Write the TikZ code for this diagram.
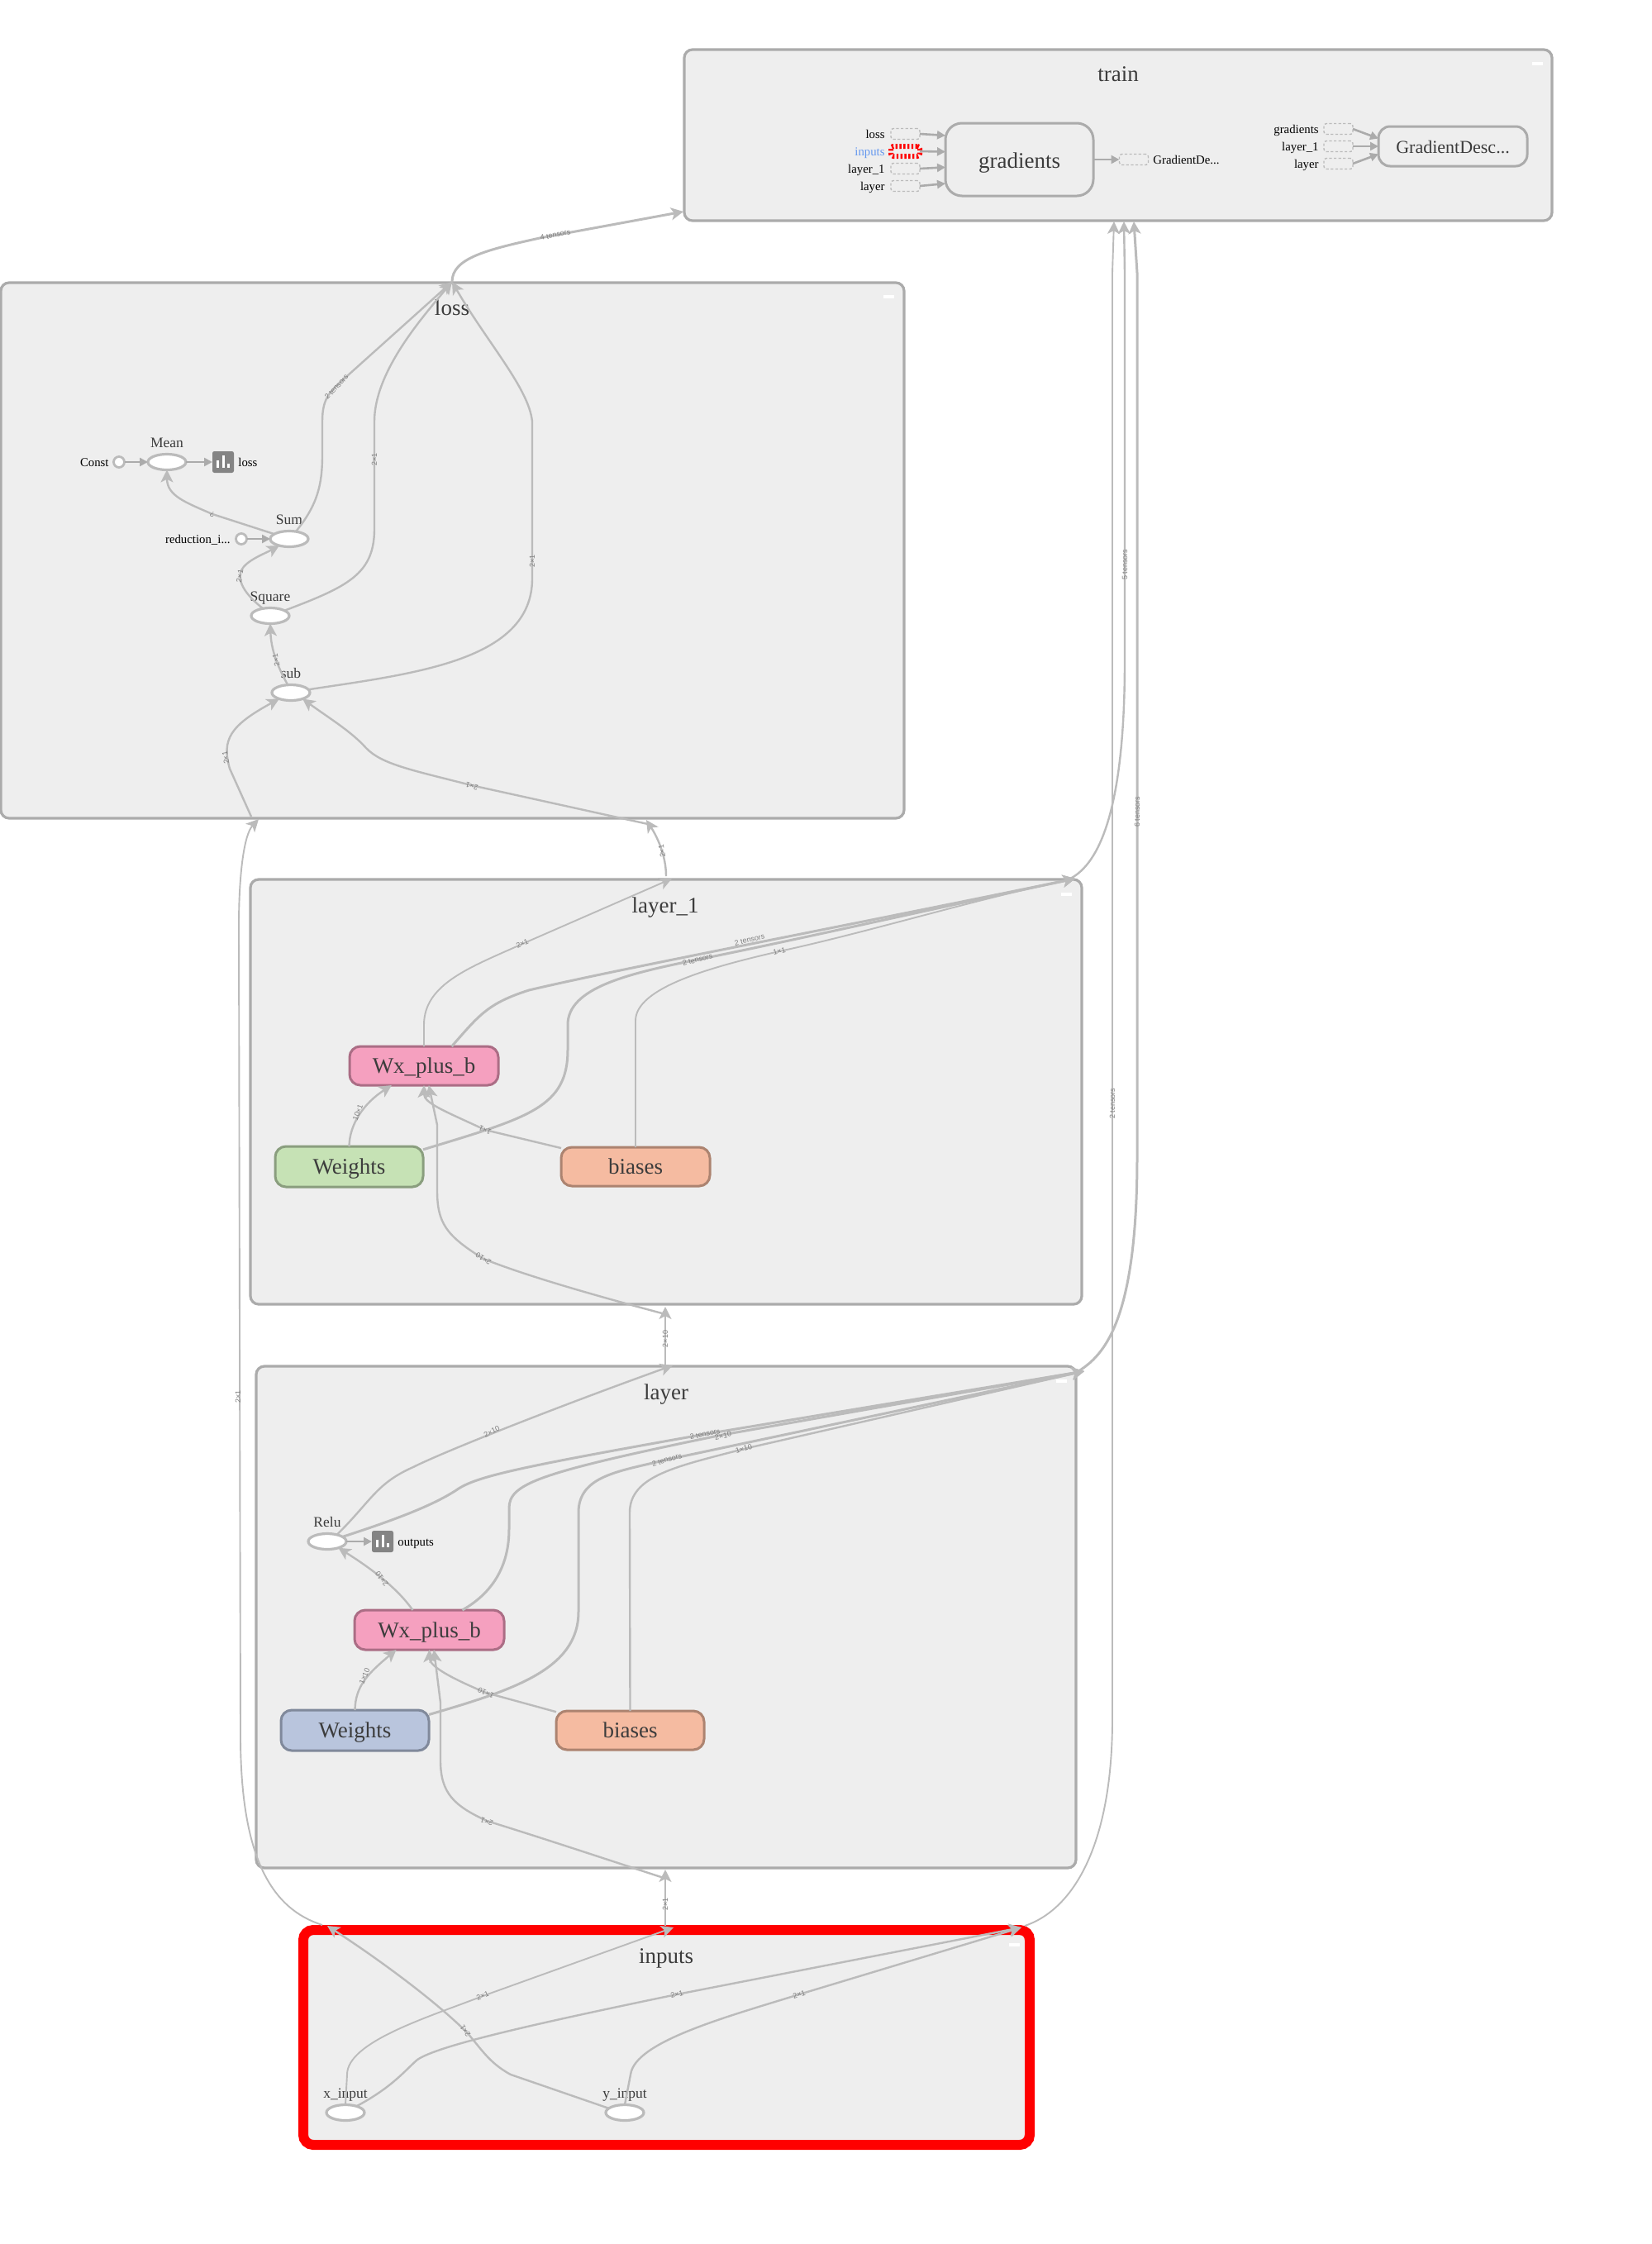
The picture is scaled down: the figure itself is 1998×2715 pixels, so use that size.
\documentclass[tikz,border=0pt]{standalone}
\usepackage{fontspec}
\setmainfont{Liberation Serif}
\newfontfamily\lsans{Liberation Sans}
\usetikzlibrary{arrows.meta,shapes.geometric}
\definecolor{grpfill}{HTML}{EEEEEE}
\definecolor{grpline}{HTML}{ABABAB}
\definecolor{edgec}{HTML}{BBBBBB}
\definecolor{annc}{HTML}{ABABAB}
\definecolor{inkc}{HTML}{3C3C3C}
\definecolor{lblc}{HTML}{7F7F7F}
\definecolor{iconc}{HTML}{848484}
\definecolor{wxf}{HTML}{F5A0BF}\definecolor{wxd}{HTML}{AB6D85}
\definecolor{grf}{HTML}{C6E2B5}\definecolor{grd}{HTML}{8A9E7E}
\definecolor{orf}{HTML}{F5BBA1}\definecolor{ord}{HTML}{AC8370}
\definecolor{blf}{HTML}{B9C5DD}\definecolor{bld}{HTML}{80899B}
\definecolor{hotred}{HTML}{FF0000}
\definecolor{bluetxt}{HTML}{6699EE}
\tikzset{
  grp/.style={draw=grpline,fill=grpfill,line width=1.6pt,rounded corners=5pt,outer sep=0pt,inner sep=0pt},
  hot/.style={draw=hotred,fill=grpfill,line width=6pt,rounded corners=6pt,outer sep=0pt,inner sep=0pt},
  gtitle/.style={font=\fontsize{13.5}{15}\selectfont,text=inkc,inner sep=0pt,anchor=base},
  metabox/.style={draw,line width=1.5pt,rounded corners=6.5pt,outer sep=0pt,inner sep=0pt,
     font=\fontsize{13.5}{15}\selectfont,text=inkc,text height=9pt,text depth=0pt},
  wxbox/.style={metabox,fill=wxf,draw=wxd},
  greenbox/.style={metabox,fill=grf,draw=grd},
  orangebox/.style={metabox,fill=orf,draw=ord},
  bluebox/.style={metabox,fill=blf,draw=bld},
  greybox/.style={metabox,fill=grpfill,draw=grpline},
  opnode/.style={ellipse,draw=edgec,fill=white,line width=1.6pt,minimum width=23pt,minimum height=9.5pt,inner sep=0pt,outer sep=0pt},
  constnode/.style={circle,draw=edgec,fill=white,line width=1.4pt,minimum size=6.5pt,inner sep=0pt,outer sep=0pt},
  oplabel/.style={font=\fontsize{8.75}{10}\selectfont,text=inkc,inner sep=0pt,anchor=base},
  smalllabel/.style={font=\fontsize{7.4}{9}\selectfont,text=black,inner sep=0pt,text height=5pt,text depth=0pt},
  elabel/.style={font=\lsans\fontsize{4.5}{5}\selectfont,text=lblc,inner sep=0pt},
  iconbox/.style={fill=iconc,rounded corners=1.2pt,minimum size=13pt,inner sep=0pt,outer sep=0pt},
  dashbox/.style={draw=edgec,fill=grpfill,line width=.7pt,dash pattern=on 1.6pt off 1.2pt,rounded corners=1.5pt,minimum width=17.5pt,minimum height=6.5pt,inner sep=0pt,outer sep=0pt},
  hotbox/.style={dashbox,draw=hotred,line width=3pt,dash pattern=on 1.2pt off 1.2pt,minimum height=6pt},
  collapse/.style={fill=white,minimum width=6.5pt,minimum height=1.8pt,inner sep=0pt,outer sep=0pt},
  ethin/.style={draw=edgec,line width=.95pt,-{Stealth[length=7.5pt,width=7.5pt,inset=1.9pt]}},
  emid/.style={ethin,line width=1.2pt},
  ethick/.style={ethin,line width=1.5pt},
  annarrow/.style={draw=annc,line width=1.3pt,-{Triangle[length=5pt,width=5pt]}}
}
\newcommand\iconbars[2]{\begin{scope}[shift={(#1,#2)}]
  \fill[white] (-8,7) rectangle (-5,-2);
  \fill[white] (-1.5,7) rectangle (1.5,-8);
  \fill[white] (5,7) rectangle (8,2);
\end{scope}}
\begin{document}
\begin{tikzpicture}[x=0.5pt,y=-0.5pt]
\useasboundingbox (0,0) rectangle (1998,2715);
\fill[white] (0,0) rectangle (1998,2715);

% ---------- groups
\node[grp,minimum width=525pt,minimum height=103.5pt] (train) at (1353,163.5) {};
\node[grp,minimum width=546.5pt,minimum height=324pt] (loss) at (547.5,666) {};
\node[grp,minimum width=503pt,minimum height=257pt] (layerA) at (806,1321) {};
\node[grp,minimum width=496pt,minimum height=303.5pt] (layerB) at (806,1956.5) {};
\node[hot,minimum width=439.5pt,minimum height=130pt] (inputs) at (806.5,2465) {};
\node[gtitle] (trainT) at (1353,98) {train};
\node[gtitle] (lossT) at (547,381) {loss};
\node[gtitle] (layerAT) at (805,1104) {layer\_1};
\node[gtitle] (layerBT) at (806,1693.5) {layer};
\node[gtitle] (inputsT) at (806,2375) {inputs};
\node[collapse] (cTrain) at (1860,77) {};
\node[collapse] (cLoss) at (1075,359) {};
\node[collapse] (cLayerA) at (1290,1082) {};
\node[collapse] (cLayerB) at (1284,1671) {};
\node[collapse] (cInputs) at (1227,2353) {};

% ---------- train
\node[greybox,minimum width=89.5pt,minimum height=44pt,rounded corners=10pt,text height=10pt] (grad) at (1233.5,193) {gradients};
\node[greybox,minimum width=90pt,minimum height=24pt,rounded corners=7pt,font=\fontsize{11}{13}\selectfont,text height=8pt] (gd) at (1758,177) {GradientDesc...};
\node[dashbox] (tLoss) at (1095.5,162) {};
\node[hotbox] (tInputs) at (1095.5,183) {};
\node[dashbox] (tLayerA) at (1095.5,204) {};
\node[dashbox] (tLayerB) at (1095.5,225) {};
\node[dashbox] (tOut) at (1372,193) {};
\node[dashbox] (gGrad) at (1619.5,156) {};
\node[dashbox] (gLayerA) at (1619.5,177) {};
\node[dashbox] (gLayerB) at (1619.5,198) {};
\node[smalllabel,anchor=east] (tLossL) at (1071,162) {loss};
\node[smalllabel,anchor=east,text=bluetxt] (tInputsL) at (1071,183) {inputs};
\node[smalllabel,anchor=east] (tLayerAL) at (1071,204) {layer\_1};
\node[smalllabel,anchor=east] (tLayerBL) at (1071,225) {layer};
\node[smalllabel,anchor=west] (tOutL) at (1395,193) {GradientDe...};
\node[smalllabel,anchor=east] (gGradL) at (1596,156) {gradients};
\node[smalllabel,anchor=east] (gLayerAL) at (1596,177) {layer\_1};
\node[smalllabel,anchor=east] (gLayerBL) at (1596,198) {layer};
\draw[annarrow] (tLoss.east) -- (grad.162);
\draw[annarrow] (tInputs.east) -- (grad.174);
\draw[annarrow] (tLayerA.east) -- (grad.186);
\draw[annarrow] (tLayerB.east) -- (grad.198);
\draw[annarrow] (grad.east) -- (tOut.west);
\draw[annarrow] (gGrad.east) -- (gd.174);
\draw[annarrow] (gLayerA.east) -- (gd.west);
\draw[annarrow] (gLayerB.east) -- (gd.186);

% ---------- loss nodes
\node[opnode] (mean) at (202,559) {};
\node[oplabel] (meanL) at (202,541) {Mean};
\node[constnode] (const) at (144,559) {};
\node[smalllabel,anchor=east] (constL) at (132,559) {Const};
\node[iconbox] (lossIcon) at (270,559) {};
\iconbars{270}{559}
\node[smalllabel,anchor=west] (lossIconL) at (288,559) {loss};
\node[opnode] (sum) at (350,652) {};
\node[oplabel] (sumL) at (350,634) {Sum};
\node[constnode] (redu) at (292,652) {};
\node[smalllabel,anchor=east] (reduL) at (279,652) {reduction\_i...};
\node[opnode] (square) at (327,745) {};
\node[oplabel] (squareL) at (327,727) {Square};
\node[opnode] (sub) at (352,838) {};
\node[oplabel] (subL) at (352,820) {sub};

% ---------- layer_1 nodes
\node[wxbox,minimum width=90pt,minimum height=23.5pt] (wxA) at (513,1289.5) {Wx\_plus\_b};
\node[greenbox,minimum width=89.5pt,minimum height=24.5pt] (wtA) at (422.5,1411.5) {Weights};
\node[orangebox,minimum width=90pt,minimum height=23.5pt] (biA) at (769,1411.5) {biases};

% ---------- layer nodes
\node[opnode] (relu) at (396,1865) {};
\node[oplabel] (reluL) at (396,1847) {Relu};
\node[iconbox] (reluIcon) at (463,1865) {};
\iconbars{463}{1865}
\node[smalllabel,anchor=west] (reluIconL) at (481,1865) {outputs};
\node[wxbox,minimum width=90.5pt,minimum height=24pt] (wxB) at (519.5,1972) {Wx\_plus\_b};
\node[bluebox,minimum width=89.5pt,minimum height=24.5pt] (wtB) at (429.5,2093.5) {Weights};
\node[orangebox,minimum width=89.5pt,minimum height=23.5pt] (biB) at (762.5,2093.5) {biases};

% ---------- inputs nodes
\node[opnode] (xin) at (418,2556) {};
\node[oplabel] (xinL) at (418,2538) {x\_input};
\node[opnode] (yin) at (756,2556) {};
\node[oplabel] (yinL) at (756,2538) {y\_input};

% ---------- junction coordinates
\coordinate (lossTop) at (547,341);
\coordinate (trainL) at (827,256);
\coordinate (lossBotL) at (313,991);
\coordinate (lossBotLout) at (304,988);
\coordinate (lossBotR) at (782,992);
\coordinate (lossBotRout) at (784,997);
\coordinate (lAtop) at (813,1063);
\coordinate (lAtopOut) at (806,1060);
\coordinate (lAcorner) at (1301,1063);
\coordinate (lAcornerOut) at (1295,1063);
\coordinate (lAbot) at (805,1581);
\coordinate (lAbotOut) at (805,1590);
\coordinate (lBtop) at (814,1652);
\coordinate (lBtopOut) at (805,1653);
\coordinate (lBcorner) at (1312,1659);
\coordinate (lBcornerOut) at (1305,1659);
\coordinate (lBbot) at (805,2262);
\coordinate (lBbotOut) at (803,2272);
\coordinate (inTop) at (815,2332);
\coordinate (inTopOut) at (805,2330);
\coordinate (inCorner) at (1236,2332);
\coordinate (inCornerOut) at (1240,2330);
\coordinate (inTL) at (396,2330);
\coordinate (inTLout) at (390,2329);
\coordinate (trainBa) at (1348,268);
\coordinate (trainBb) at (1360,268);
\coordinate (trainBc) at (1372,268);

% ---------- loss edges
\draw[annarrow] (const.east) -- (mean.west);
\draw[annarrow] (mean.east) -- (lossIcon.west);
\draw[annarrow] (redu.east) -- (sum.west);
\draw[emid] (sum.162) -- (257,622) .. controls (225,608) and (202,600) .. (mean.south);
\draw[emid] (square.135) .. controls (300,722) and (286,705) .. (292,690) .. controls (298,678) and (320,670) .. (sum.214);
\draw[emid] (sub.112) .. controls (335,805) and (328,785) .. (square.south);
\draw[emid] (sum.48) .. controls (385,610) and (390,585) .. (390,550) -- (390,510) .. controls (390,480) and (400,473) .. (420,455) -- (lossTop);
\draw[emid] (square.20) .. controls (420,710) and (453,695) .. (453,640) -- (453,510) .. controls (453,450) and (510,385) .. (lossTop);
\draw[emid] (sub.10) .. controls (500,815) and (644,800) .. (644,700) -- (644,510) .. controls (640,470) and (590,415) .. (lossTop);
\draw[ethick] (lossTop) .. controls (547,312) and (590,302) .. (653,288) -- (trainL);
\draw[emid] (lossBotLout) -- (278,930) .. controls (268,895) and (278,878) .. (sub.208);
\draw[emid] (lossBotRout) -- (570,950) .. controls (500,932) and (462,925) .. (443,905) .. controls (425,885) and (400,870) .. (sub.332);
\node[elabel,rotate=158] (lbA) at (257,622) {?};
\node[elabel,rotate=80] (lbB) at (290,697) {2×1};
\node[elabel,rotate=102] (lbC) at (334,799) {2×1};
\node[elabel,rotate=47] (lbD) at (407,468) {2 tensors};
\node[elabel,rotate=90] (lbE) at (453,556) {2×1};
\node[elabel,rotate=90] (lbF) at (644,679) {2×1};
\node[elabel,rotate=11] (lbG) at (672,284) {4 tensors};
\node[elabel,rotate=100] (lbH) at (273,917) {2×1};
\node[elabel,rotate=164] (lbI) at (571,951) {2×1};

% ---------- layer_1 edges
\draw[ethin] (wxA.north) -- (513,1240) .. controls (513,1190) and (570,1170) .. (632,1142) -- (lAtop);
\draw[ethick] (wxA.35) .. controls (580,1228) and (590,1214) .. (640,1198) .. controls (750,1172) and (1000,1125) .. (lAcorner);
\draw[ethick] (wtA.13) .. controls (640,1352) and (687,1340) .. (687,1270) -- (687,1240) .. controls (687,1195) and (760,1178) .. (844,1161) .. controls (950,1140) and (1150,1095) .. (lAcorner);
\draw[ethin] (biA.north) -- (769,1235) .. controls (769,1195) and (860,1170) .. (943,1151) .. controls (1050,1128) and (1180,1088) .. (lAcorner);
\draw[emid] (wtA.north) .. controls (423,1360) and (440,1335) .. (wxA.211);
\draw[emid] (biA.166) -- (587,1367) .. controls (540,1345) and (513,1335) .. (wxA.south);
\draw[emid] (lAbotOut) .. controls (730,1570) and (640,1545) .. (585,1523) .. controls (540,1495) and (529,1480) .. (529,1440) -- (529,1361) -- (wxA.284);
\draw[emid] (lBtopOut) -- (lAbot);
\draw[emid] (lAtopOut) .. controls (806,1035) and (795,1012) .. (lossBotR);
\node[elabel,rotate=24] (laA) at (632,1142) {2×1};
\node[elabel,rotate=13] (laB) at (907,1137) {2 tensors};
\node[elabel,rotate=15] (laC) at (844,1161) {2 tensors};
\node[elabel,rotate=14] (laD) at (943,1151) {1×1};
\node[elabel,rotate=70] (laE) at (433,1346) {10×1};
\node[elabel,rotate=155] (laF) at (587,1367) {1×1};
\node[elabel,rotate=148] (laG) at (585,1523) {2×10};
\node[elabel,rotate=90] (laH) at (805,1620) {2×10};
\node[elabel,rotate=100] (laI) at (801,1030) {2×1};

% ---------- layer edges
\draw[annarrow] (relu.east) -- (reluIcon.west);
\draw[emid] (relu.35) .. controls (450,1815) and (455,1795) .. (500,1775) .. controls (540,1755) and (680,1700) .. (lBtop);
\draw[ethick] (relu.17) .. controls (490,1835) and (530,1818) .. (555,1801) .. controls (580,1785) and (640,1773) .. (854,1735) -- (lBcorner);
\draw[ethick] (wxB.31) .. controls (600,1925) and (616,1890) .. (616,1850) -- (616,1825) .. controls (616,1795) and (650,1782) .. (874,1736) -- (lBcorner);
\draw[ethick] (wtB.12) .. controls (620,2045) and (700,2020) .. (700,1950) -- (700,1830) .. controls (700,1785) and (750,1780) .. (807,1766) -- (lBcorner);
\draw[emid] (biB.north) -- (762,1830) .. controls (762,1785) and (820,1774) .. (900,1753) -- (lBcorner);
\draw[emid] (wxB.130) .. controls (480,1920) and (445,1895) .. (relu.330);
\draw[emid] (wtB.north) .. controls (430,2040) and (445,2025) .. (wxB.211);
\draw[emid] (biB.166) -- (588,2048) .. controls (540,2028) and (520,2015) .. (wxB.south);
\draw[emid] (lBbotOut) .. controls (720,2245) and (660,2225) .. (589,2203) .. controls (550,2185) and (533,2170) .. (533,2130) -- (533,2060) -- (wxB.283);
\draw[ethin] (inTopOut) -- (lBbot);
\node[elabel,rotate=26] (lcA) at (595,1732) {2×10};
\node[elabel,rotate=12] (lcB) at (853,1735) {2 tensors};
\node[elabel,rotate=12] (lcC) at (875,1737) {2×10};
\node[elabel,rotate=16] (lcD) at (807,1766) {2 tensors};
\node[elabel,rotate=16] (lcE) at (900,1753) {1×10};
\node[elabel,rotate=125] (lcF) at (462,1910) {2×10};
\node[elabel,rotate=68] (lcG) at (441,2028) {1×10};
\node[elabel,rotate=155] (lcH) at (588,2048) {1×10};
\node[elabel,rotate=158] (lcI) at (589,2204) {2×1};
\node[elabel,rotate=90] (lcJ) at (805,2304) {2×1};

% ---------- inputs edges
\draw[ethin] (xin.north) -- (420,2510) .. controls (420,2470) and (520,2440) .. (584,2415) -- (inTop);
\draw[emid] (xin.30) .. controls (475,2525) and (490,2505) .. (505,2492) .. controls (530,2475) and (640,2450) .. (819,2413) -- (inCorner);
\draw[emid] (yin.north) -- (763,2510) .. controls (768,2470) and (880,2440) .. (967,2413) -- (inCorner);
\draw[emid] (yin.165) -- (618,2510) .. controls (590,2495) and (580,2475) .. (563,2457) .. controls (520,2415) and (450,2365) .. (inTL);
\node[elabel,rotate=22] (ldA) at (584,2415) {2×1};
\node[elabel,rotate=14] (ldB) at (819,2413) {2×1};
\node[elabel,rotate=17] (ldC) at (967,2413) {2×1};
\node[elabel,rotate=125] (ldD) at (563,2457) {2×1};

% ---------- long edges
\draw[ethin] (inTLout) .. controls (330,2310) and (291,2250) .. (291,2100) -- (289,1120) .. controls (289,1060) and (295,1010) .. (lossBotL);
\draw[ethin] (inCornerOut) .. controls (1300,2310) and (1346,2230) .. (1346,2080) -- (1346,330) -- (trainBa);
\draw[emid] (lAcornerOut) .. controls (1330,1045) and (1361,980) .. (1361,800) -- (1361,330) -- (trainBb);
\draw[ethick] (lBcornerOut) .. controls (1335,1640) and (1376,1600) .. (1376,1400) -- (1376,330) -- (trainBc);
\node[elabel,rotate=90] (leA) at (288,1690) {2×1};
\node[elabel,rotate=90] (leB) at (1346,1335) {2 tensors};
\node[elabel,rotate=90] (leC) at (1361,683) {5 tensors};
\node[elabel,rotate=90] (leD) at (1376,982) {6 tensors};
\end{tikzpicture}
\end{document}
